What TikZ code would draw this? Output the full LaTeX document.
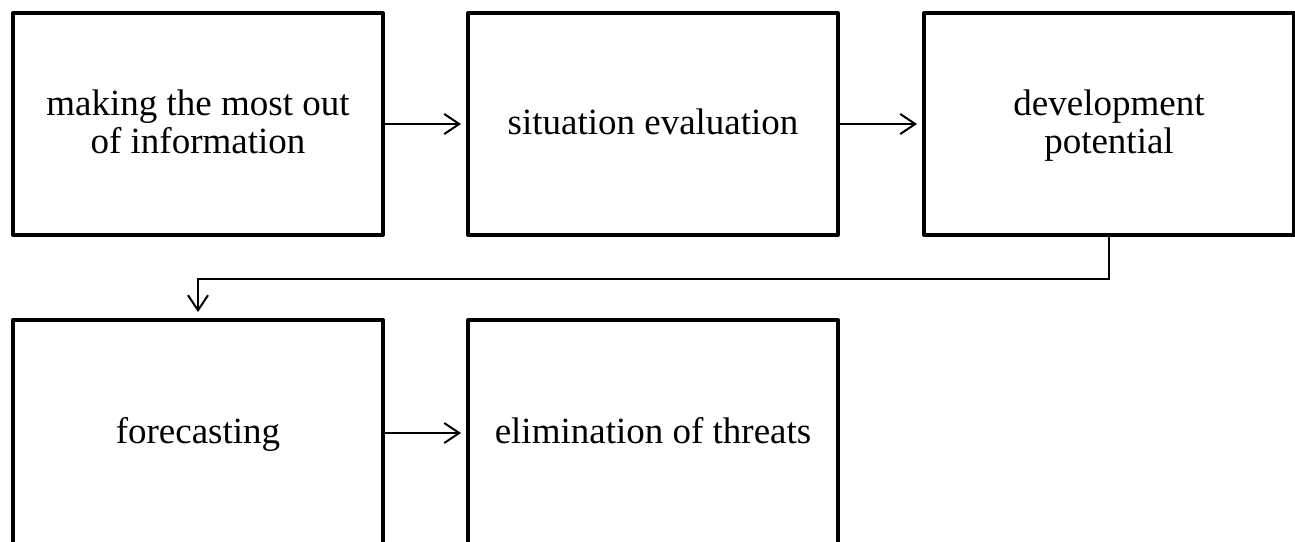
\documentclass[tikz,border=0pt]{standalone}
\usepackage{fontspec}
\setmainfont{Liberation Serif}
\usetikzlibrary{arrows.meta}
% a strut that fixes the height and depth of each text line
\newcommand{\linestrut}{\rule[-9pt]{0pt}{38pt}}
\begin{document}
\begin{tikzpicture}[x=1pt,y=-1pt,
  stagebox/.style={draw=black, line width=4pt, line join=round, fill=white,
    minimum width=370pt, minimum height=222pt, inner sep=0pt, align=center,
    font=\fontsize{37}{38}\selectfont},
  lowbox/.style={stagebox, minimum height=226pt},
  flow/.style={line width=2pt, -{Straight Barb[length=15pt,width=20pt,line width=2pt]}}]
\useasboundingbox (0,0) rectangle (1295,541);
% top row
\node[stagebox] (info)  at (198,124)  {\linestrut making the most out\\\linestrut of information};
\node[stagebox] (eval)  at (653,124)  {\linestrut situation evaluation};
\node[stagebox] (devel) at (1109,124) {\linestrut development\\\linestrut potential};
% bottom row
\node[lowbox] (fore) at (198,433) {\linestrut forecasting};
\node[lowbox] (elim) at (653,433) {\linestrut elimination of threats};
% connectors
\draw[flow, shorten >=5pt] (info.east) -- (eval.west);
\draw[flow, shorten >=5pt] (eval.east) -- (devel.west);
\draw[flow, shorten >=6pt] (devel.south) -- ++(0,42) -| (fore.north);
\draw[flow, shorten >=5pt] (fore.east) -- (elim.west);
\end{tikzpicture}
\end{document}
